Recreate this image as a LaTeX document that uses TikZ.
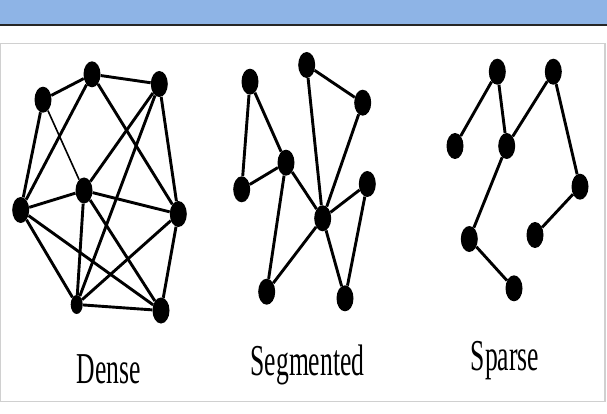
\documentclass[tikz,border=0pt]{standalone}
\usepackage{fontspec}
\setmainfont{Liberation Serif}
\usetikzlibrary{shapes.geometric}
\definecolor{bandblue}{HTML}{8EB4E6}
\definecolor{framegray}{HTML}{D0D0D0}
\tikzset{
  dot/.style={ellipse,fill=black,inner sep=0pt,minimum width=17pt,minimum height=26pt},
  smalldot/.style={dot,minimum width=12pt,minimum height=19pt},
  link/.style={line width=2.9pt},
  thinlink/.style={line width=1.6pt},
  caption/.style={anchor=base,inner sep=0pt,font=\fontsize{42}{42}\selectfont}
}
\newcommand{\narrow}[1]{\scalebox{0.61}[1.05]{#1}}
\begin{document}
\begin{tikzpicture}[x=1pt,y=-1pt]
\useasboundingbox (0,0) rectangle (607,414);
% header band and frame
\fill[bandblue] (0,0) rectangle (607,25);
\draw[line width=2pt,black!85] (0,25) -- (607,25);
\draw[framegray,line width=1.3pt] (0.6,43.3) rectangle (605,401.7);

% dense
\foreach \n/\x/\y in {d1/43/99.7,d2/92/74.3,d3/159.3/84,d4/84/190.5,d5/20.7/210,d6/178.3/214,d8/161/310.5}
  \node[dot] (\n) at (\x,\y) {};
\node[smalldot] (d7) at (76.7,304.5) {};
\foreach \a/\b in {d1/d2,d2/d3,d1/d5,d2/d5,d2/d6,d3/d4,d3/d7,d3/d6,d4/d5,d4/d6,d4/d7,d4/d8,d5/d7,d5/d8,d6/d7,d6/d8,d7/d8}
  \draw[link] (\a) -- (\b);
\draw[thinlink] (d1) -- (d4);
\node[caption] (dense) at (109,383) {\narrow{Dense}};

% segmented
\foreach \n/\x/\y in {s1/250/81.7,s2/306.7/65,s3/362.7/102.7,s4/286/162.7,s5/241.7/189.3,s6/367.3/184,s7/322.7/218.3,s8/266.7/291.7,s9/345/298.3}
  \node[dot] (\n) at (\x,\y) {};
\foreach \a/\b in {s1/s4,s1/s5,s5/s4,s4/s7,s4/s8,s2/s7,s2/s3,s3/s7,s7/s6,s7/s8,s7/s9,s6/s9}
  \draw[link] (\a) -- (\b);
\node[caption] (segmented) at (307.5,375) {\narrow{Segmented}};

% sparse
\foreach \n/\x/\y in {p1/497.3/71.7,p2/553.3/71.7,p3/455/146,p4/506.7/146,p5/580/186.7,p6/469.3/239,p7/535/235,p8/514/288.3}
  \node[dot] (\n) at (\x,\y) {};
\foreach \a/\b in {p1/p3,p1/p4,p2/p4,p2/p5,p5/p7,p4/p6,p6/p8}
  \draw[link] (\a) -- (\b);
\node[caption] (sparse) at (505,370) {\narrow{Sparse}};
\end{tikzpicture}
\end{document}
